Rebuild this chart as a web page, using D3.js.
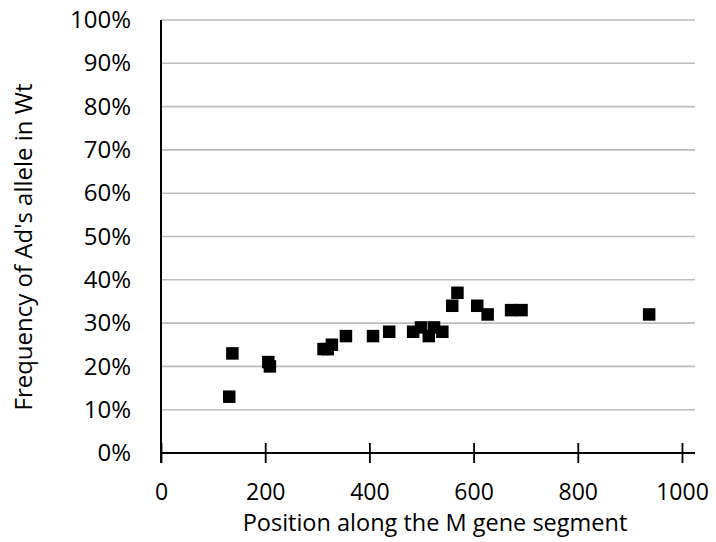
<!DOCTYPE html>
<html>
<head>
<meta charset="utf-8">
<script src="https://cdn.jsdelivr.net/npm/d3@7"></script>
<style>
  html, body { margin: 0; padding: 0; background: #fff; }
  svg { display: block; }
  text { font-family: "Open Sans", sans-serif; fill: #000; }
</style>
</head>
<body>
<svg id="chart" width="716" height="542"></svg>
<script>
// Position along the M gene segment (nt) and frequency of Ad's allele in Wt
const positions = [131, 137, 206, 209, 312, 320, 328, 355, 407, 438, 484, 499, 514, 524, 540, 559, 569, 607, 627, 672, 692, 937];
const frequencies = [0.13, 0.23, 0.21, 0.20, 0.24, 0.24, 0.25, 0.27, 0.27, 0.28, 0.28, 0.29, 0.27, 0.29, 0.28, 0.34, 0.37, 0.34, 0.32, 0.33, 0.33, 0.32];
const xTicks = [0, 200, 400, 600, 800, 1000];
const yTicks = [0, 0.1, 0.2, 0.3, 0.4, 0.5, 0.6, 0.7, 0.8, 0.9, 1.0];
const xTitle = "Position along the M gene segment";
const yTitle = "Frequency of Ad's allele in Wt";

const svg = d3.select("#chart");
const plotLeft = 161, plotRight = 695, plotTop = 20, plotBottom = 453;

const x = d3.scaleLinear().domain([0, 1025]).range([plotLeft, plotRight]);
const y = d3.scaleLinear().domain([0, 1]).range([plotBottom, plotTop]);

// horizontal gridlines
svg.append("g")
  .selectAll("line")
  .data(yTicks.filter(d => d > 0))
  .join("line")
  .attr("x1", plotLeft).attr("x2", plotRight)
  .attr("y1", d => y(d)).attr("y2", d => y(d))
  .attr("stroke", "#bdbdbd")
  .attr("stroke-width", 1.6);

// y axis (labels only, line drawn below)
const yAxis = svg.append("g")
  .attr("transform", `translate(${plotLeft},0)`)
  .call(d3.axisLeft(y).tickValues(yTicks).tickFormat(d3.format(".0%")).tickSize(0).tickPadding(30));
yAxis.select(".domain").remove();
yAxis.selectAll("text")
  .attr("font-size", 24)
  .attr("font-family", "Open Sans, sans-serif")
  .attr("fill", "#000");

// x axis with ticks crossing the axis line
const xAxis = svg.append("g")
  .attr("transform", `translate(0,${plotBottom})`)
  .call(d3.axisBottom(x).tickValues(xTicks).tickFormat(d3.format("d")).tickSize(10).tickPadding(21));
xAxis.select(".domain").remove();
xAxis.selectAll(".tick line")
  .attr("y1", -10).attr("y2", 10)
  .attr("stroke", "#000").attr("stroke-width", 1.8);
xAxis.selectAll("text")
  .attr("font-size", 23)
  .attr("font-family", "Open Sans, sans-serif")
  .attr("fill", "#000");

svg.append("line")
  .attr("x1", plotLeft).attr("x2", plotRight)
  .attr("y1", plotBottom).attr("y2", plotBottom)
  .attr("stroke", "#000").attr("stroke-width", 2);
svg.append("line")
  .attr("x1", plotLeft).attr("x2", plotLeft)
  .attr("y1", plotTop).attr("y2", plotBottom + 10)
  .attr("stroke", "#000").attr("stroke-width", 2);

// square markers
const size = 12.5;
svg.append("g")
  .selectAll("rect")
  .data(positions.map((p, i) => [p, frequencies[i]]))
  .join("rect")
  .attr("x", d => x(d[0]) - size / 2)
  .attr("y", d => y(d[1]) - size / 2)
  .attr("width", size).attr("height", size)
  .attr("fill", "#000");

// axis titles
svg.append("text")
  .attr("x", 435).attr("y", 531)
  .attr("text-anchor", "middle")
  .attr("font-size", 23.5)
  .text(xTitle);

svg.append("text")
  .attr("transform", "translate(22,247) rotate(-90)")
  .attr("text-anchor", "middle")
  .attr("dominant-baseline", "central")
  .attr("font-size", 24)
  .text(yTitle);
</script>
</body>
</html>
